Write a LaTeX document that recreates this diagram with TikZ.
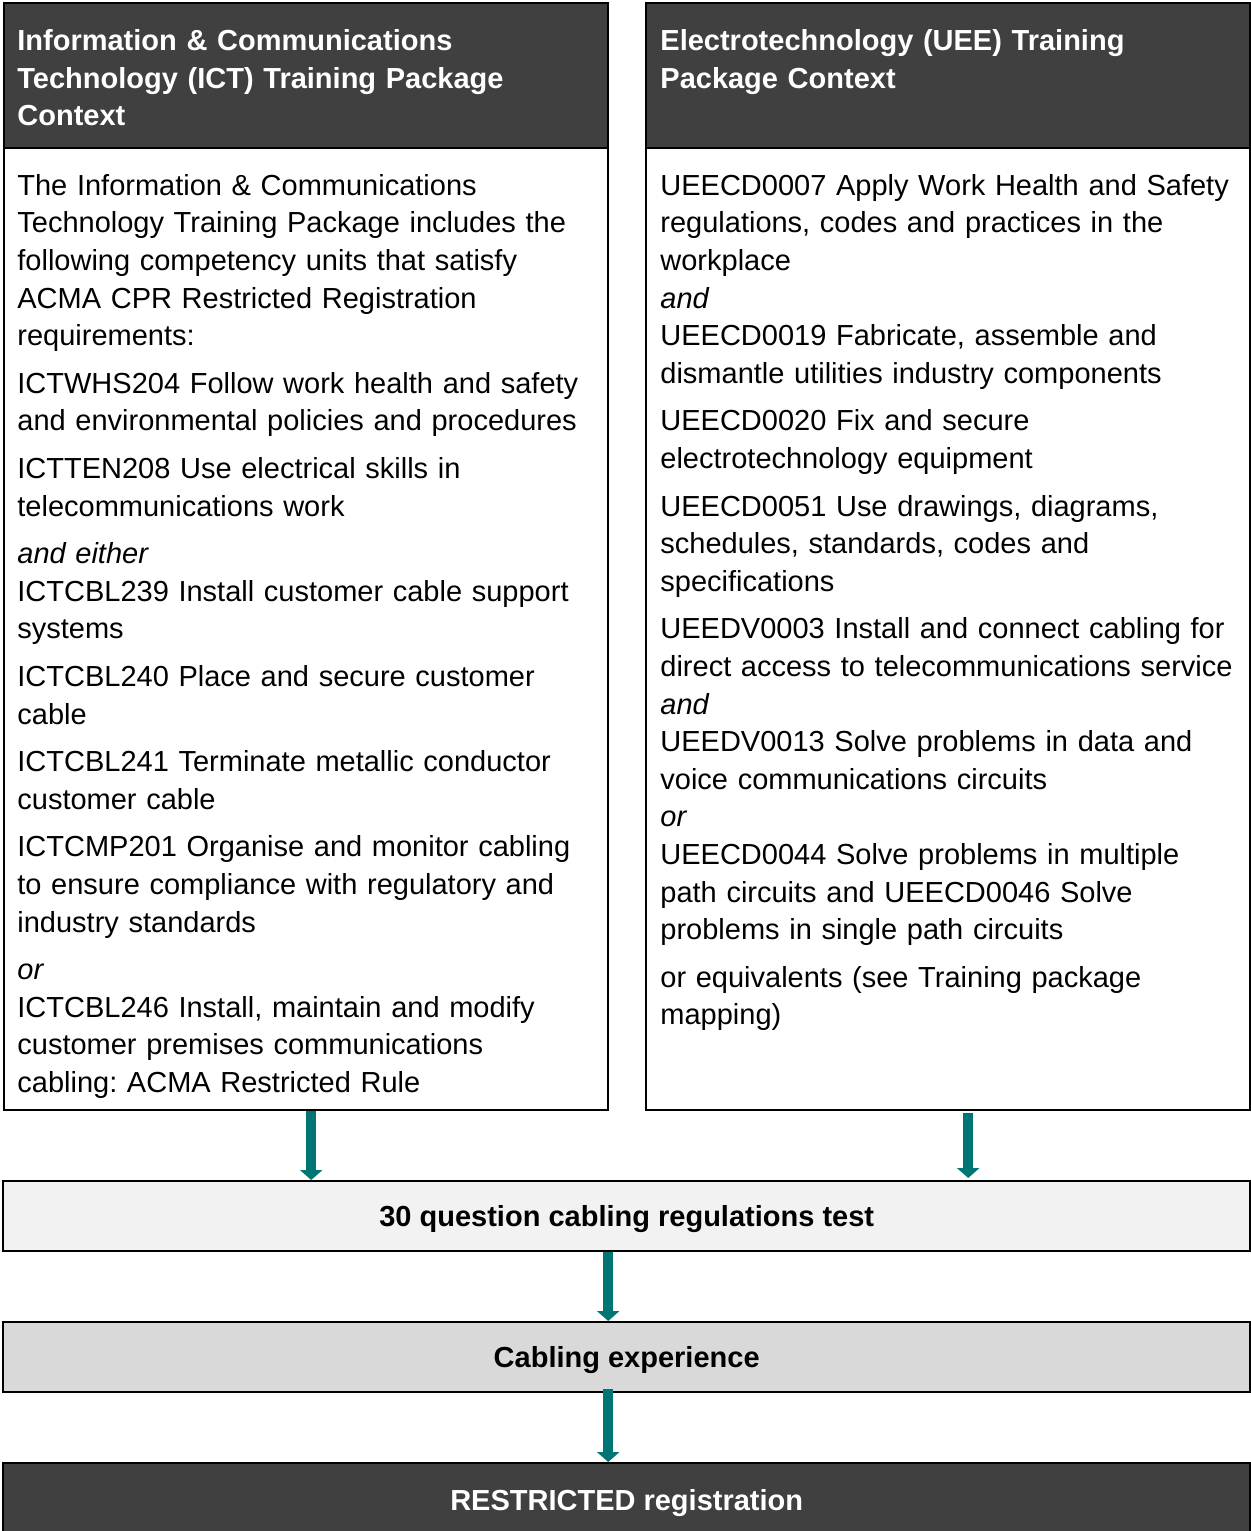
\documentclass[tikz,border=0pt]{standalone}
\usepackage{fontspec}
\setmainfont{Liberation Sans}
\usetikzlibrary{arrows.meta}
\definecolor{hdrgray}{HTML}{404040}
\definecolor{testgray}{HTML}{F2F2F2}
\definecolor{expgray}{HTML}{D9D9D9}
\definecolor{flowteal}{HTML}{007674}

\begin{document}
\begin{tikzpicture}[x=0.5pt,y=-0.5pt,
    font=\fontsize{14.5pt}{18.8pt}\selectfont\frenchspacing,
    frame/.style={draw=black,line width=1.2pt,inner sep=0pt,anchor=north west},
    hdr/.style={frame,fill=hdrgray},
    txt/.style={anchor=north west,inner sep=0pt,text width=300pt,align=left},
    bar/.style={frame,minimum width=623.5pt,minimum height=35pt,text depth=0pt,
      font=\fontsize{14.5pt}{18.8pt}\selectfont\bfseries},
    flow/.style={draw=flowteal,line width=5pt,-{Triangle[width=11pt,length=5pt]}}]

      \useasboundingbox (0,0) rectangle (1250,1531);

      \node[hdr,minimum width=302pt,minimum height=72.5pt] (ictHead) at (3,2) {};
      \node[frame,minimum width=302pt,minimum height=481pt] (ictBody) at (3,147) {};
      \node[hdr,minimum width=302pt,minimum height=72.5pt] (ueeHead) at (645,2) {};
      \node[frame,minimum width=302pt,minimum height=481pt] (ueeBody) at (645,147) {};

      \node[txt,text=white,font=\fontsize{14.5pt}{18.8pt}\selectfont\bfseries] (ictTitle) at (17,24)
        {\strut Information \& Communications\\
         Technology (ICT) Training Package\\
         Context};
      \node[txt,text=white,font=\fontsize{14.5pt}{18.8pt}\selectfont\bfseries] (ueeTitle) at (660,24)
        {\strut Electrotechnology (UEE) Training\\
         Package Context};

      \node[txt] (ictText) at (17,168.5)
        {\strut The Information \& Communications\\
         Technology Training Package includes the\\
         following competency units that satisfy\\
         ACMA CPR Restricted Registration\\
         requirements:\\[5pt]
         ICTWHS204 Follow work health and safety\\
         and environmental policies and procedures\\[5pt]
         ICTTEN208 Use electrical skills in\\
         telecommunications work\\[5pt]
         \textit{and either}\\
         ICTCBL239 Install customer cable support\\
         systems\\[5pt]
         ICTCBL240 Place and secure customer\\
         cable\\[5pt]
         ICTCBL241 Terminate metallic conductor\\
         customer cable\\[5pt]
         ICTCMP201 Organise and monitor cabling\\
         to ensure compliance with regulatory and\\
         industry standards\\[5pt]
         \textit{or}\\
         ICTCBL246 Install, maintain and modify\\
         customer premises communications\\
         cabling: ACMA Restricted Rule};

      \node[txt] (ueeText) at (660,168.5)
        {\strut UEECD0007 Apply Work Health and Safety\\
         regulations, codes and practices in the\\
         workplace\\
         \textit{and}\\
         UEECD0019 Fabricate, assemble and\\
         dismantle utilities industry components\\[5pt]
         UEECD0020 Fix and secure\\
         electrotechnology equipment\\[5pt]
         UEECD0051 Use drawings, diagrams,\\
         schedules, standards, codes and\\
         specifications\\[5pt]
         UEEDV0003 Install and connect cabling for\\
         direct access to telecommunications service\\
         \textit{and}\\
         UEEDV0013 Solve problems in data and\\
         voice communications circuits\\
         \textit{or}\\
         UEECD0044 Solve problems in multiple\\
         path circuits and UEECD0046 Solve\\
         problems in single path circuits\\[5pt]
         or equivalents (see Training package\\
         mapping)};

      \node[bar,fill=testgray] (test) at (2,1180) {30 question cabling regulations test};
      \node[bar,fill=expgray] (exp) at (2,1321) {Cabling experience};
      \node[bar,fill=hdrgray,text=white,minimum height=37pt] (restricted) at (2,1462) {RESTRICTED registration};

      \draw[flow] ([xshift=2.5pt]ictBody.south) -- ([xshift=2.5pt]ictBody.south |- test.north);
      \draw[flow] ([xshift=10pt,yshift=-1pt]ueeBody.south) -- ([xshift=10pt,yshift=1pt]ueeBody.south |- test.north);
      \draw[flow] ([xshift=-9.25pt]test.south) -- ([xshift=-9.25pt]test.south |- exp.north);
      \draw[flow] ([xshift=-9.25pt,yshift=2pt]exp.south) -- ([xshift=-9.25pt]exp.south |- restricted.north);
\end{tikzpicture}
\end{document}
